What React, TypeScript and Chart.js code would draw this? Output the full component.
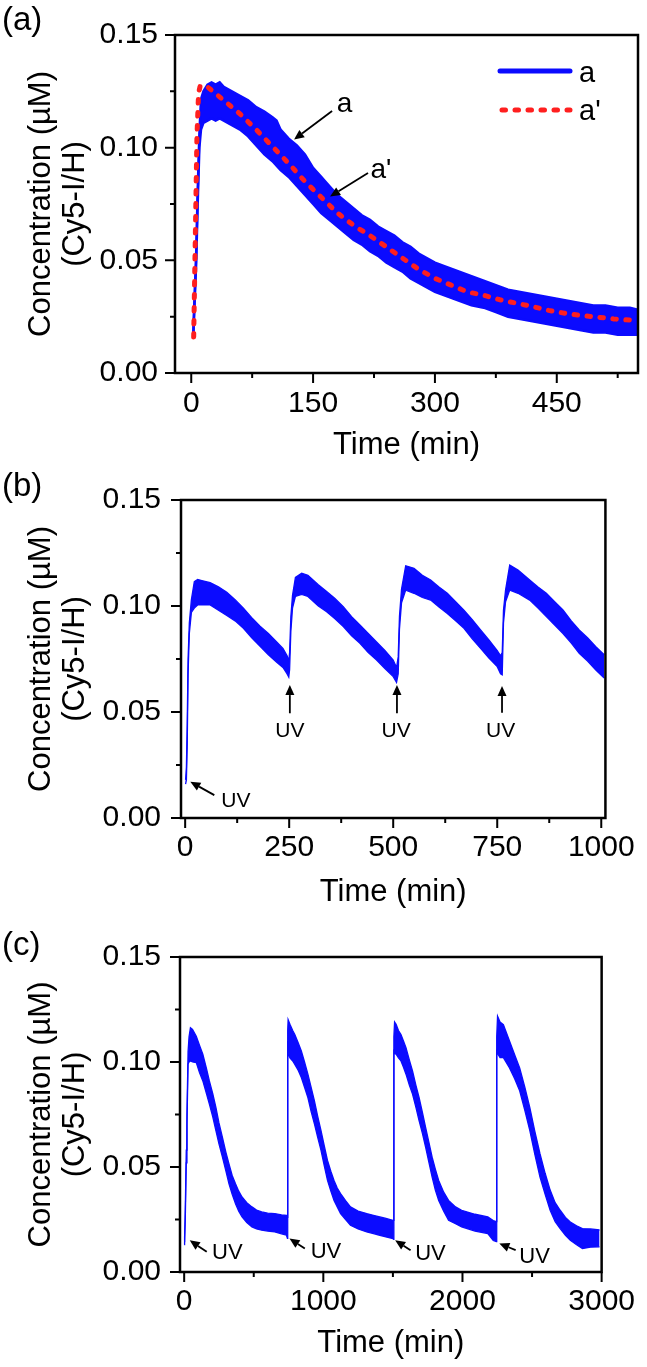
import React, { useEffect, useRef } from "react";
import { Chart, registerables } from "chart.js";

Chart.register(...registerables);

const FONT = "'Liberation Sans', Arial, Helvetica, sans-serif";
const BLUE = "#0b0bff";
const RED = "#ff1f1f";

// ---------- Panel (a) ----------
const A_TIME = [2.5, 4, 6, 8, 10, 12, 15, 20, 25, 30, 35, 40, 50, 60, 70, 80, 90, 100, 105, 110, 120, 130, 140, 150, 160, 170, 180, 190, 200, 210, 220, 230, 240, 250, 260, 270, 280, 290, 300, 315, 330, 345, 360, 375, 390, 405, 420, 435, 450, 465, 480, 495, 510, 525, 540, 550];
const A_UPPER = [0.0175, 0.033, 0.052, 0.082, 0.106, 0.1215, 0.125, 0.128, 0.129, 0.128, 0.129, 0.127, 0.125, 0.123, 0.121, 0.118, 0.116, 0.1135, 0.112, 0.108, 0.104, 0.101, 0.097, 0.091, 0.087, 0.083, 0.079, 0.076, 0.073, 0.07, 0.068, 0.065, 0.063, 0.061, 0.058, 0.056, 0.053, 0.051, 0.049, 0.047, 0.045, 0.043, 0.041, 0.039, 0.037, 0.036, 0.035, 0.034, 0.033, 0.032, 0.031, 0.03, 0.03, 0.029, 0.029, 0.028];
const A_LOWER = [0.016, 0.03, 0.048, 0.076, 0.1, 0.108, 0.111, 0.112, 0.113, 0.112, 0.113, 0.112, 0.11, 0.108, 0.105, 0.101, 0.097, 0.094, 0.092, 0.09, 0.087, 0.083, 0.079, 0.075, 0.071, 0.068, 0.065, 0.062, 0.059, 0.057, 0.054, 0.052, 0.049, 0.047, 0.045, 0.042, 0.04, 0.038, 0.036, 0.034, 0.032, 0.03, 0.029, 0.027, 0.025, 0.024, 0.023, 0.022, 0.021, 0.02, 0.019, 0.018, 0.018, 0.017, 0.017, 0.017];
const A_FIT_TIME = [3, 5, 7, 9, 11, 20, 40, 60, 80, 100, 120, 140, 160, 180, 200, 220, 240, 260, 280, 300, 320, 340, 360, 380, 400, 420, 440, 460, 480, 500, 520, 550];
const A_FIT = [0.016, 0.06, 0.105, 0.124, 0.1275, 0.127, 0.121, 0.115, 0.108, 0.1005, 0.093, 0.085, 0.078, 0.071, 0.0655, 0.061, 0.056, 0.051, 0.046, 0.042, 0.039, 0.036, 0.0345, 0.0325, 0.031, 0.0295, 0.0278, 0.0265, 0.0255, 0.0248, 0.024, 0.0232];
const A_ARROWS = [[173.4, 0.1163, 126.6, 0.1036], [217.6, 0.0888, 170.9, 0.0783]];
const A_TEXTS: [number, number, string][] = [[188.7, 0.1159, "a"], [233.6, 0.0866, "a'"]];

// ---------- Panel (b) ----------
const B_TIME = [1, 3, 5, 7, 10, 15, 22, 30, 40, 60, 80, 100, 120, 140, 160, 180, 200, 220, 235, 245, 249, 251, 254, 258, 265, 280, 295, 320, 340, 360, 380, 400, 420, 440, 460, 480, 500, 508, 512, 515, 520, 530, 550, 570, 590, 610, 630, 650, 670, 690, 710, 730, 750, 758, 762, 765, 770, 780, 800, 828, 848, 868, 888, 908, 928, 947, 967, 987, 1007];
const B_UPPER = [0.018, 0.024, 0.045, 0.075, 0.092, 0.103, 0.1115, 0.1125, 0.112, 0.111, 0.109, 0.1065, 0.103, 0.099, 0.0945, 0.0905, 0.087, 0.083, 0.08, 0.0765, 0.074, 0.078, 0.095, 0.105, 0.1135, 0.1155, 0.1145, 0.11, 0.1068, 0.1035, 0.0997, 0.095, 0.091, 0.087, 0.083, 0.079, 0.0745, 0.071, 0.076, 0.095, 0.108, 0.119, 0.1178, 0.1145, 0.1123, 0.109, 0.106, 0.102, 0.098, 0.0935, 0.0887, 0.084, 0.079, 0.0765, 0.078, 0.098, 0.1075, 0.1193, 0.117, 0.1123, 0.109, 0.106, 0.102, 0.0981, 0.093, 0.0887, 0.085, 0.0808, 0.077];
const B_LOWER = [0.016, 0.018, 0.035, 0.068, 0.087, 0.097, 0.099, 0.1005, 0.1005, 0.1005, 0.098, 0.0955, 0.093, 0.0895, 0.085, 0.081, 0.077, 0.0735, 0.071, 0.068, 0.0665, 0.07, 0.088, 0.099, 0.1045, 0.1055, 0.1045, 0.1, 0.0973, 0.094, 0.0903, 0.086, 0.0824, 0.078, 0.0745, 0.0705, 0.0667, 0.064, 0.068, 0.089, 0.1015, 0.1075, 0.106, 0.104, 0.1028, 0.0995, 0.0965, 0.093, 0.0895, 0.0845, 0.08, 0.0755, 0.0714, 0.068, 0.0675, 0.092, 0.102, 0.1075, 0.106, 0.1028, 0.099, 0.095, 0.091, 0.087, 0.0825, 0.0777, 0.074, 0.0698, 0.066];
const B_ARROWS = [[70, 0.0108, 12.4, 0.0171], [251.6, 0.0494, 251.6, 0.0627], [509, 0.0494, 509, 0.0627], [761.5, 0.0497, 761.5, 0.0623]];
const B_TEXTS: [number, number, string][] = [[122, 0.0052, "UV"], [251.6, 0.0383, "UV"], [507, 0.0383, "UV"], [758, 0.038, "UV"]];

// ---------- Panel (c) ----------
const C_TIME = [0, 3, 8, 15, 20, 28, 35, 45, 60, 87, 110, 134, 160, 181, 205, 228, 250, 275, 300, 322, 345, 369, 392, 416, 450, 487, 520, 557, 600, 651, 700, 735, 742, 744, 747, 760, 780, 795, 820, 842, 865, 889, 912, 936, 960, 983, 1007, 1030, 1054, 1077, 1100, 1124, 1160, 1195, 1250, 1312, 1360, 1406, 1450, 1500, 1505, 1507, 1512, 1523, 1540, 1558, 1576, 1594, 1618, 1641, 1665, 1688, 1712, 1735, 1758, 1782, 1805, 1829, 1865, 1900, 1950, 1994, 2090, 2182, 2221, 2243, 2246, 2252, 2270, 2294, 2338, 2375, 2411, 2448, 2484, 2520, 2557, 2594, 2630, 2666, 2702, 2740, 2775, 2820, 2862, 2920, 2985];
const C_UPPER = [0.0145, 0.0165, 0.03, 0.058, 0.075, 0.105, 0.112, 0.1163, 0.1155, 0.1123, 0.108, 0.1037, 0.097, 0.091, 0.085, 0.0784, 0.071, 0.0641, 0.057, 0.0515, 0.046, 0.042, 0.0385, 0.0357, 0.033, 0.031, 0.0295, 0.0286, 0.028, 0.0278, 0.0272, 0.027, 0.026, 0.115, 0.1202, 0.118, 0.115, 0.1131, 0.109, 0.1052, 0.1, 0.0942, 0.088, 0.0815, 0.074, 0.0674, 0.06, 0.0531, 0.048, 0.0436, 0.04, 0.0373, 0.034, 0.031, 0.029, 0.0278, 0.027, 0.0262, 0.0255, 0.0246, 0.0246, 0.112, 0.119, 0.1179, 0.115, 0.1131, 0.11, 0.1068, 0.101, 0.0957, 0.089, 0.0831, 0.076, 0.0689, 0.062, 0.0547, 0.049, 0.0436, 0.038, 0.0341, 0.031, 0.0294, 0.0275, 0.0262, 0.0245, 0.024, 0.112, 0.1218, 0.119, 0.1178, 0.11, 0.1035, 0.0972, 0.088, 0.0783, 0.067, 0.0563, 0.047, 0.039, 0.033, 0.0294, 0.026, 0.0238, 0.022, 0.0207, 0.0205, 0.02];
const C_LOWER = [0.013, 0.014, 0.025, 0.052, 0.07, 0.099, 0.1, 0.1005, 0.1, 0.0997, 0.095, 0.091, 0.085, 0.08, 0.074, 0.0673, 0.061, 0.0547, 0.048, 0.042, 0.037, 0.0325, 0.029, 0.0262, 0.0235, 0.0215, 0.0205, 0.0199, 0.0195, 0.0191, 0.0182, 0.0175, 0.016, 0.11, 0.104, 0.102, 0.1005, 0.0989, 0.096, 0.0926, 0.088, 0.0831, 0.0765, 0.0705, 0.064, 0.058, 0.0505, 0.0436, 0.0385, 0.0341, 0.031, 0.0278, 0.025, 0.0223, 0.0205, 0.0191, 0.0183, 0.0175, 0.0167, 0.0159, 0.0155, 0.106, 0.104, 0.1037, 0.102, 0.1005, 0.0975, 0.0942, 0.089, 0.0847, 0.0785, 0.0721, 0.066, 0.0595, 0.0525, 0.0452, 0.039, 0.0341, 0.029, 0.0246, 0.023, 0.0215, 0.0195, 0.0183, 0.015, 0.0145, 0.106, 0.104, 0.1021, 0.1021, 0.0972, 0.092, 0.0863, 0.077, 0.0673, 0.056, 0.0452, 0.037, 0.0294, 0.024, 0.0207, 0.0175, 0.0151, 0.013, 0.0112, 0.0118, 0.012];
const C_ARROWS = [[162, 0.0096, 40, 0.0151], [867, 0.0112, 757, 0.016], [1627, 0.0104, 1516, 0.0151], [2382, 0.0104, 2265, 0.0136]];
const C_TEXTS: [number, number, string][] = [[310, 0.006, "UV"], [1019, 0.0065, "UV"], [1770, 0.0057, "UV"], [2518, 0.0041, "UV"]];

// ---------- Axes ----------
const A_X_MAJOR = [0, 150, 300, 450];
const A_X_MINOR = [75, 225, 375, 525];
const B_X_MAJOR = [0, 250, 500, 750, 1000];
const B_X_MINOR = [125, 375, 625, 875];
const C_X_MAJOR = [0, 1000, 2000, 3000];
const C_X_MINOR = [500, 1500, 2500];
const Y_MAJOR = [0, 0.05, 0.1, 0.15];
const Y_MINOR = [0.025, 0.075, 0.125];
const X_TITLE = "Time (min)";
const Y_TITLE = ["Concentration (µM)", "(Cy5-I/H)"];
const LEGEND_LABELS = ["a", "a'"];

const pts = (xs: number[], ys: number[]) => xs.map((x, i) => ({ x, y: ys[i] }));

type Spec = {
  top: number; height: number; padTop: number; padRight: number;
  yAxisW: number; xAxisH: number; xMin: number; xMax: number;
  xMajor: number[]; xMinor: number[]; xTickPad: number; yTickPad: number;
  xTitlePad: number; label: string; labelY: number;
  datasets: any[]; arrows: number[][]; texts: [number, number, string][];
  textFont: number; legend: boolean;
};

function drawArrow(ctx: CanvasRenderingContext2D, x1: number, y1: number, x2: number, y2: number, head: number, hw: number) {
  const ang = Math.atan2(y2 - y1, x2 - x1);
  const bx = x2 - head * Math.cos(ang);
  const by = y2 - head * Math.sin(ang);
  ctx.beginPath();
  ctx.moveTo(x1, y1);
  ctx.lineTo(bx, by);
  ctx.stroke();
  ctx.beginPath();
  ctx.moveTo(x2, y2);
  ctx.lineTo(bx + hw * Math.sin(ang), by - hw * Math.cos(ang));
  ctx.lineTo(bx - hw * Math.sin(ang), by + hw * Math.cos(ang));
  ctx.closePath();
  ctx.fill();
}

function overlay(s: Spec) {
  return {
    id: "overlay",
    afterDatasetsDraw(chart: any) {
      const { ctx, chartArea: ca } = chart;
      const x = chart.scales.x;
      const y = chart.scales.y;
      ctx.save();
      ctx.strokeStyle = "#000";
      ctx.fillStyle = "#000";
      ctx.lineWidth = 2.5;
      ctx.strokeRect(ca.left, ca.top, ca.right - ca.left, ca.bottom - ca.top);
      ctx.lineWidth = 2;
      ctx.beginPath();
      for (const v of s.xMajor) { const p = x.getPixelForValue(v); ctx.moveTo(p, ca.bottom); ctx.lineTo(p, ca.bottom + 10); }
      for (const v of s.xMinor) { const p = x.getPixelForValue(v); ctx.moveTo(p, ca.bottom); ctx.lineTo(p, ca.bottom + 5); }
      for (const v of Y_MAJOR) { const p = y.getPixelForValue(v); ctx.moveTo(ca.left, p); ctx.lineTo(ca.left - 10, p); }
      for (const v of Y_MINOR) { const p = y.getPixelForValue(v); ctx.moveTo(ca.left, p); ctx.lineTo(ca.left - 5, p); }
      ctx.stroke();
      // arrows
      ctx.lineWidth = 1.8;
      for (const a of s.arrows) {
        drawArrow(ctx, x.getPixelForValue(a[0]), y.getPixelForValue(a[1]), x.getPixelForValue(a[2]), y.getPixelForValue(a[3]), 10, 4.5);
      }
      ctx.font = `${s.textFont}px ${FONT}`;
      ctx.textAlign = "center";
      ctx.textBaseline = "alphabetic";
      for (const t of s.texts) {
        ctx.fillText(t[2], x.getPixelForValue(t[0]), y.getPixelForValue(t[1]));
      }
      if (s.legend) {
        const lx0 = ca.right - 138, lx1 = ca.right - 68;
        ctx.lineWidth = 5;
        ctx.lineCap = "round";
        ctx.strokeStyle = BLUE;
        ctx.beginPath(); ctx.moveTo(lx0, ca.top + 36); ctx.lineTo(lx1, ca.top + 36); ctx.stroke();
        ctx.strokeStyle = RED;
        ctx.setLineDash([3.5, 9.5]);
        ctx.beginPath(); ctx.moveTo(lx0 + 2, ca.top + 75); ctx.lineTo(lx1, ca.top + 75); ctx.stroke();
        ctx.setLineDash([]);
        ctx.font = `29px ${FONT}`;
        ctx.textAlign = "left";
        ctx.fillStyle = "#000";
        ctx.fillText(LEGEND_LABELS[0], ca.right - 59, ca.top + 47);
        ctx.fillText(LEGEND_LABELS[1], ca.right - 59, ca.top + 85);
      }
      ctx.font = `33px ${FONT}`;
      ctx.textAlign = "left";
      ctx.fillStyle = "#000";
      ctx.fillText(s.label, 2, s.labelY);
      ctx.restore();
    },
  };
}

function config(s: Spec): any {
  return {
    type: "line",
    data: { datasets: s.datasets },
    options: {
      responsive: false,
      maintainAspectRatio: false,
      animation: false,
      events: [],
      layout: { padding: { left: 0, top: s.padTop, right: s.padRight, bottom: 0 } },
      plugins: { legend: { display: false }, tooltip: { enabled: false } },
      elements: { point: { radius: 0 }, line: { tension: 0 } },
      scales: {
        x: {
          type: "linear", position: "bottom", min: s.xMin, max: s.xMax, bounds: "data",
          grid: { display: false, drawTicks: false }, border: { display: false },
          afterBuildTicks: (sc: any) => { sc.ticks = s.xMajor.map((v) => ({ value: v })); },
          afterFit: (sc: any) => { sc.height = s.xAxisH; },
          ticks: { color: "#000", font: { family: FONT, size: 30 }, padding: s.xTickPad, maxRotation: 0, minRotation: 0, autoSkip: false, callback: (v: any) => String(v) },
          title: { display: true, text: X_TITLE, color: "#000", font: { family: FONT, size: 31, lineHeight: 1.1 }, padding: { top: 0, bottom: s.xTitlePad } },
        },
        y: {
          type: "linear", position: "left", min: 0, max: 0.15, bounds: "data",
          grid: { display: false, drawTicks: false }, border: { display: false },
          afterBuildTicks: (sc: any) => { sc.ticks = Y_MAJOR.map((v) => ({ value: v })); },
          afterFit: (sc: any) => { sc.width = s.yAxisW; },
          ticks: { color: "#000", font: { family: FONT, size: 30 }, padding: s.yTickPad, autoSkip: false, callback: (v: any) => Number(v).toFixed(2) },
          title: { display: true, text: Y_TITLE, color: "#000", font: { family: FONT, size: 31, lineHeight: 1.1 }, padding: { top: 24, bottom: 0 } },
        },
      },
    },
    plugins: [overlay(s)],
  };
}

function band(xs: number[], up: number[], lo: number[], w: number) {
  return [
    { data: pts(xs, up), borderColor: BLUE, borderWidth: w, fill: false, order: 1, pointRadius: 0 },
    { data: pts(xs, lo), borderColor: BLUE, borderWidth: w, backgroundColor: BLUE, fill: "-1", order: 1, pointRadius: 0 },
  ];
}

const SPECS: Spec[] = [
  {
    top: 0, height: 480, padTop: 30, padRight: 9, yAxisW: 175, xAxisH: 107,
    xMin: -20, xMax: 550, xMajor: A_X_MAJOR, xMinor: A_X_MINOR, xTickPad: 13, yTickPad: 17, xTitlePad: 17,
    label: "(a)", labelY: 30,
    datasets: [
      { data: pts(A_FIT_TIME, A_FIT), borderColor: RED, borderWidth: 5, borderDash: [3.5, 9.5], borderCapStyle: "round", fill: false, order: 0, pointRadius: 0 },
      ...band(A_TIME, A_UPPER, A_LOWER, 2.5),
    ],
    arrows: A_ARROWS, texts: A_TEXTS, textFont: 28, legend: true,
  },
  {
    top: 460, height: 460, padTop: 40, padRight: 38, yAxisW: 181, xAxisH: 102,
    xMin: -10, xMax: 1010, xMajor: B_X_MAJOR, xMinor: B_X_MINOR, xTickPad: 12, yTickPad: 20, xTitlePad: 10,
    label: "(b)", labelY: 36,
    datasets: [
      { data: [], order: 0 },
      ...band(B_TIME, B_UPPER, B_LOWER, 1.3),
    ],
    arrows: B_ARROWS, texts: B_TEXTS, textFont: 21, legend: false,
  },
  {
    top: 920, height: 447, padTop: 35, padRight: 37, yAxisW: 180, xAxisH: 95,
    xMin: -30, xMax: 3000, xMajor: C_X_MAJOR, xMinor: C_X_MINOR, xTickPad: 12, yTickPad: 19, xTitlePad: 6,
    label: "(c)", labelY: 35,
    datasets: [
      { data: [], order: 0 },
      ...band(C_TIME, C_UPPER, C_LOWER, 1.3),
    ],
    arrows: C_ARROWS, texts: C_TEXTS, textFont: 22, legend: false,
  },
];

function Panel({ spec }: { spec: Spec }) {
  const ref = useRef<HTMLCanvasElement>(null);
  useEffect(() => {
    const chart = new Chart(ref.current as HTMLCanvasElement, config(spec));
    return () => chart.destroy();
  }, [spec]);
  return (
    <canvas
      ref={ref}
      width={647}
      height={spec.height}
      style={{ position: "absolute", left: 0, top: spec.top, width: 647, height: spec.height }}
    />
  );
}

export default function App() {
  return (
    <div style={{ position: "absolute", left: 0, top: 0, width: 647, height: 1367, background: "#fff" }}>
      {SPECS.map((s, i) => (
        <Panel key={i} spec={s} />
      ))}
    </div>
  );
}
